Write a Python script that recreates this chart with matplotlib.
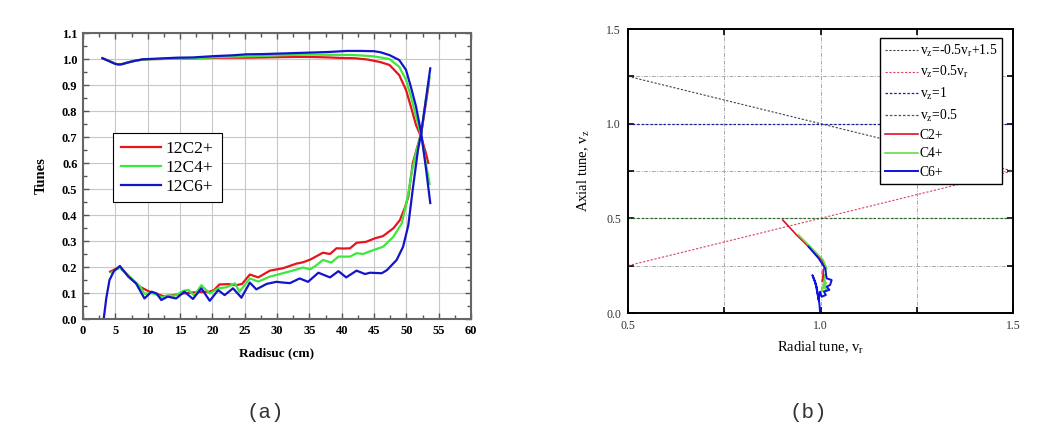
import matplotlib
matplotlib.use("Agg")
import matplotlib.pyplot as plt
from matplotlib.ticker import MultipleLocator, FuncFormatter

plt.rcParams['mathtext.fontset'] = 'custom'
plt.rcParams['mathtext.rm'] = 'Liberation Serif'
plt.rcParams['mathtext.it'] = 'Liberation Serif:italic'

# ---------------- data (a): tunes vs radius ----------------
r_up_c2 = [3, 4, 5, 5.5, 6, 7, 8, 9, 10, 12, 15, 18, 20, 22, 25, 28, 30, 33, 35, 38, 40, 42, 44,
           45, 46, 47.4, 48.9, 49.95, 50.7, 51.5, 52.3, 53.0, 53.4]
nur_c2 = [1.003, 0.993, 0.982, 0.979, 0.980, 0.987, 0.993, 0.997, 0.999, 1.0, 1.002, 1.003, 1.004,
          1.005, 1.005, 1.006, 1.007, 1.008, 1.008, 1.006, 1.004, 1.003, 0.998, 0.993, 0.988,
          0.977, 0.938, 0.881, 0.817, 0.746, 0.70, 0.64, 0.60]
r_up_c4 = [3, 4, 5, 5.5, 6, 7, 8, 9, 10, 12, 15, 18, 20, 22, 25, 28, 30, 33, 35, 38, 40, 42, 44,
           45, 46, 47.4, 48.9, 49.95, 50.7, 51.5, 52.3, 53.0, 53.6]
nur_c4 = [1.003, 0.993, 0.982, 0.979, 0.980, 0.987, 0.993, 0.997, 0.999, 1.0, 1.002, 1.004, 1.006,
          1.008, 1.010, 1.012, 1.014, 1.016, 1.017, 1.016, 1.016, 1.015, 1.012, 1.010, 1.006,
          1.0, 0.97, 0.92, 0.856, 0.78, 0.705, 0.60, 0.52]
r_up_c6 = [3, 4, 5, 5.5, 6, 7, 8, 9.3, 12, 14.5, 17, 20.2, 23, 25.3, 28, 30.5, 33, 35.6, 38, 40.8,
           43, 45, 46, 47.4, 48.9, 49.95, 50.7, 51.5, 52.3, 53.0, 53.7]
nur_c6 = [1.003, 0.992, 0.981, 0.979, 0.980, 0.987, 0.993, 0.999, 1.002, 1.005, 1.006, 1.011, 1.014,
          1.018, 1.019, 1.021, 1.023, 1.025, 1.027, 1.031, 1.031, 1.030, 1.026, 1.015, 0.996,
          0.958, 0.893, 0.817, 0.715, 0.586, 0.446]

r_lo_c2 = [4.2, 5.0, 5.7, 6.5, 7.3, 8.0, 8.8, 9.5, 10.3, 11, 12.4, 13.5, 15.5, 16.5, 18, 19.6, 20.3,
           21.1, 22.5, 23.7, 24.6, 25.8, 27.1, 28.9, 30.9, 33, 34, 35.1, 36, 37.1, 38.2, 39.2, 40.3,
           41.3, 42.3, 43.8, 45.1, 46.4, 48, 49, 49.8, 50.3, 51.0, 52.3, 52.9, 53.5]
nuz_c2 = [0.182, 0.192, 0.198, 0.18, 0.16, 0.143, 0.124, 0.115, 0.105, 0.1, 0.088, 0.09, 0.098,
          0.101, 0.104, 0.105, 0.112, 0.133, 0.134, 0.130, 0.135, 0.171, 0.160, 0.186, 0.195, 0.213,
          0.218, 0.228, 0.24, 0.255, 0.250, 0.272, 0.271, 0.272, 0.293, 0.297, 0.31, 0.319, 0.349,
          0.38, 0.43, 0.47, 0.60, 0.715, 0.81, 0.91]
r_lo_c4 = [4.4, 5.0, 5.7, 6.5, 7.3, 8.8, 9.5, 10.5, 11.2, 12.1, 13.1, 14.2, 15.5, 16.3, 17.2, 18.3,
           19.6, 20.9, 22.2, 23.5, 24.2, 25.8, 27.1, 28.9, 30.9, 33, 34, 35.1, 36, 37.1, 38.4, 39.5,
           41.3, 42.3, 43.3, 44.9, 46.4, 48, 49.3, 50.3, 50.8, 51.5, 52.3, 53.0, 53.6]
nuz_c4 = [0.178, 0.188, 0.197, 0.178, 0.16, 0.126, 0.097, 0.1, 0.096, 0.083, 0.09, 0.09, 0.108,
          0.112, 0.09, 0.13, 0.098, 0.118, 0.122, 0.137, 0.105, 0.156, 0.144, 0.163, 0.176, 0.19,
          0.198, 0.191, 0.205, 0.227, 0.217, 0.24, 0.24, 0.253, 0.25, 0.265, 0.278, 0.316, 0.368,
          0.48, 0.56, 0.64, 0.715, 0.84, 0.93]
r_lo_c6 = [3.2, 3.6, 4.1, 4.8, 5.7, 7.0, 8.2, 9.5, 10.6, 11.4, 12.1, 13.1, 14.4, 15.7, 17.0, 18.3,
           19.6, 20.9, 21.9, 23.2, 24.5, 25.8, 26.8, 28.4, 29.9, 31, 32, 33.5, 34.8, 36.4, 38.2,
           39.5, 40.7, 42.3, 43.6, 44.4, 46.2, 47.0, 48.5, 49.5, 50.3, 51.0, 51.8, 52.3, 53.0, 53.7]
nuz_c6 = [0.0, 0.08, 0.15, 0.185, 0.204, 0.163, 0.137, 0.079, 0.105, 0.098, 0.073, 0.086, 0.079,
          0.105, 0.077, 0.118, 0.07, 0.111, 0.092, 0.118, 0.082, 0.140, 0.114, 0.135, 0.143, 0.14,
          0.138, 0.156, 0.143, 0.178, 0.16, 0.184, 0.16, 0.186, 0.173, 0.178, 0.176, 0.188, 0.227,
          0.278, 0.36, 0.50, 0.65, 0.715, 0.84, 0.964]

# ---------------- data (b): tune diagram ----------------
nur_line = [0.5, 1.5]
res_labels = [r'v$_\mathregular{z}$=-0.5v$_\mathregular{r}$+1.5', r'v$_\mathregular{z}$=0.5v$_\mathregular{r}$',
              r'v$_\mathregular{z}$=1', r'v$_\mathregular{z}$=0.5']
tb_r_c2 = [0.902, 0.938, 0.973, 1.003, 1.012, 1.007, 1.006, 1.010, 1.005]
tb_z_c2 = [0.491, 0.412, 0.342, 0.280, 0.245, 0.227, 0.166, 0.20, 0.17]
tb_r_c4 = [0.943, 0.982, 1.007, 1.016, 1.012, 1.007, 1.016, 1.003, 1.012, 1.008, 1.015]
tb_z_c4 = [0.412, 0.333, 0.280, 0.236, 0.200, 0.148, 0.122, 0.113, 0.174, 0.13, 0.16]
tb_r_c6 = [0.969, 0.995, 1.012, 1.016, 1.029, 1.025, 1.016, 1.023, 1.009, 1.014, 1.003, 0.999,
           0.995, 0.990, 0.979, 0.986, 0.993, 0.997, 0.999]
tb_z_c6 = [0.350, 0.289, 0.236, 0.183, 0.174, 0.148, 0.139, 0.122, 0.113, 0.095, 0.086, 0.113,
           0.069, 0.139, 0.200, 0.166, 0.095, 0.051, 0.0]
ion_labels_a = ['12C2+', '12C4+', '12C6+']
ion_labels_b = ['C2+', 'C4+', 'C6+']

fig = plt.figure(figsize=(10.56, 4.3), dpi=100)

# ---------------- panel (a) ----------------
ax = fig.add_axes([83/1056, 1-319/430, 388/1056, 286/430])
c_a = ['#e8141c', '#3ce83c', '#1414c8']
for (ru, vu, rl, vl, c, lab) in [(r_up_c2, nur_c2, r_lo_c2, nuz_c2, c_a[0], ion_labels_a[0]),
                                 (r_up_c4, nur_c4, r_lo_c4, nuz_c4, c_a[1], ion_labels_a[1]),
                                 (r_up_c6, nur_c6, r_lo_c6, nuz_c6, c_a[2], ion_labels_a[2])]:
    ax.plot(ru, vu, color=c, lw=1.6, label=lab)
    ax.plot(rl, vl, color=c, lw=1.6)
ax.set_xlim(0, 60)
ax.set_ylim(0, 1.1)
ax.xaxis.set_major_locator(MultipleLocator(5))
ax.xaxis.set_minor_locator(MultipleLocator(2.5))
ax.yaxis.set_major_locator(MultipleLocator(0.1))
ax.yaxis.set_minor_locator(MultipleLocator(0.05))
ax.yaxis.set_major_formatter(FuncFormatter(lambda v, p: f'{v:.1f}'))
ax.grid(True, which='major', color='#c8c8c8', lw=0.8)
ax.set_axisbelow(True)
for s in ax.spines.values():
    s.set_color('#666666')
    s.set_linewidth(1.5)
ax.tick_params(which='both', direction='in', top=True, right=True, color='#555555')
ax.tick_params(which='major', length=4, width=1.0, pad=4)
ax.tick_params(which='minor', length=3, width=1.0)
for t in ax.get_xticklabels() + ax.get_yticklabels():
    t.set_fontfamily('Liberation Serif')
    t.set_fontweight('bold')
    t.set_fontsize(9)
ax.set_xlabel('Radisuc (cm)', family='Liberation Serif', weight='bold', fontsize=9.5, labelpad=8)
ax.set_ylabel('Tunes', family='Liberation Serif', weight='bold', fontsize=10.5, labelpad=10)
leg = ax.legend(loc='upper left', bbox_to_anchor=(0.0773, 0.650), borderaxespad=0,
                prop={'family': 'Liberation Serif', 'size': 12.5}, frameon=True, fancybox=False,
                edgecolor='black', framealpha=1, handlelength=2.3, handletextpad=0.3,
                labelspacing=0.15, borderpad=0.45)
leg.get_frame().set_linewidth(0.8)

# ---------------- panel (b) ----------------
bx = fig.add_axes([628/1056, 1-313/430, 385/1056, 284/430])
z1 = [-0.5 * v + 1.5 for v in nur_line]
z2 = [0.5 * v for v in nur_line]
bx.plot(nur_line, z1, color='#444444', lw=0.8, ls=(0, (2, 1.5)), label=res_labels[0])
bx.plot(nur_line, z2, color='#e04060', lw=0.8, ls=(0, (2, 1.5)), label=res_labels[1])
bx.plot(nur_line, [1, 1], color='#1c1c9c', lw=0.9, ls=(0, (2, 1.5)), label=res_labels[2])
bx.plot(nur_line, [0.5, 0.5], color='#2a6a2a', lw=0.9, ls=(0, (2, 1.5)), label=res_labels[3])
bx.plot(tb_r_c2, tb_z_c2, color='#e0102a', lw=1.2, label=ion_labels_b[0])
bx.plot(tb_r_c4, tb_z_c4, color='#66dd44', lw=1.2, label=ion_labels_b[1])
bx.plot(tb_r_c6, tb_z_c6, color='#1010e0', lw=1.4, label=ion_labels_b[2])
bx.set_xlim(0.5, 1.5)
bx.set_ylim(0, 1.5)
bx.xaxis.set_major_locator(MultipleLocator(0.25))
bx.yaxis.set_major_locator(MultipleLocator(0.25))
fmt = FuncFormatter(lambda v, p: f'{v:.1f}' if abs(round(v * 2) - v * 2) < 1e-6 else '')
bx.xaxis.set_major_formatter(fmt)
bx.yaxis.set_major_formatter(fmt)
bx.grid(True, color='#a8a8a8', lw=0.7, ls=(0, (4, 1.5, 1, 1.5)))
bx.set_axisbelow(True)
for s in bx.spines.values():
    s.set_color('black')
    s.set_linewidth(1.4)
bx.tick_params(direction='in', top=True, right=True, length=4, width=1.2, pad=5,
               labelcolor='#333333')
for t in bx.get_xticklabels() + bx.get_yticklabels():
    t.set_fontfamily('Liberation Serif')
    t.set_fontsize(8.5)
bx.set_xlabel(r'Radial tune, v$_\mathregular{r}$', family='Liberation Serif', fontsize=10.5, labelpad=6)
bx.set_ylabel(r'Axial tune, v$_\mathregular{z}$', family='Liberation Serif', fontsize=10.5, labelpad=10)
legb = bx.legend(loc='upper right', bbox_to_anchor=(0.971, 0.968), borderaxespad=0,
                 prop={'family': 'Liberation Serif', 'size': 9.8}, frameon=True, fancybox=False,
                 edgecolor='black', framealpha=1, handlelength=2.4, handletextpad=0.15,
                 labelspacing=0.4, borderpad=0.35)
legb.get_frame().set_linewidth(1.0)

fig.text(265/1056, 1-413/430, '(a)', ha='center', va='center', family='Liberation Mono', fontsize=15,
         color='#333333')
fig.text(808/1056, 1-413/430, '(b)', ha='center', va='center', family='Liberation Mono', fontsize=15,
         color='#333333')

fig.savefig('out.png', dpi=100)
